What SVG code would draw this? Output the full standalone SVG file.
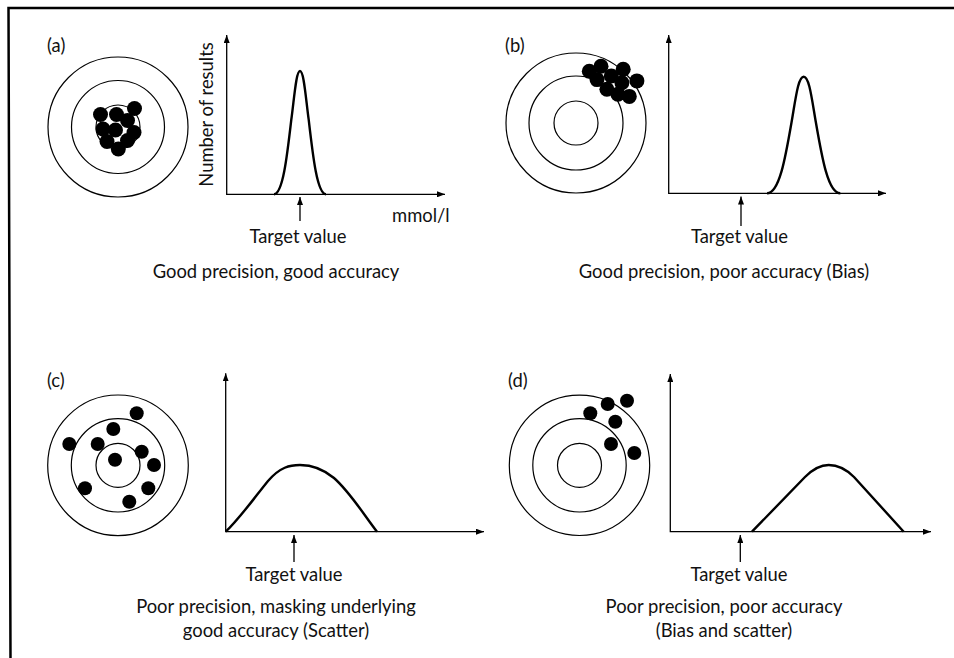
<svg xmlns="http://www.w3.org/2000/svg" width="954" height="658" viewBox="0 0 954 658">
<defs>
<marker id="ah" viewBox="0 0 8 6" refX="8" refY="3" markerWidth="8" markerHeight="6" markerUnits="userSpaceOnUse" orient="auto-start-reverse">
<path d="M0,0 L8,3 L0,6 z" fill="#000"/>
</marker>
</defs>
<style>
text{font-family:"Lato","Open Sans","DejaVu Sans",sans-serif;font-size:18.4px;fill:#111}
.mid{text-anchor:middle}
.ring{fill:none;stroke:#000;stroke-width:1.2}
.dot{fill:#000}
.axis{fill:none;stroke:#000;stroke-width:1.3;marker-start:url(#ah);marker-end:url(#ah)}
.tarr{fill:none;stroke:#000;stroke-width:1.3;marker-end:url(#ah)}
.curve{fill:none;stroke:#000;stroke-width:2.4;stroke-linejoin:round}
.frame{fill:none;stroke:#000;stroke-width:2.5}
</style>
<rect width="954" height="658" fill="#fff"/>
<path class="frame" d="M954,8 L8.5,8 L10.5,658"/>

<g id="panel-a">
<text x="47" y="52">(a)</text>
<circle class="ring" cx="118" cy="127" r="70"/>
<circle class="ring" cx="118" cy="127" r="46.5"/>
<circle class="ring" cx="118" cy="127" r="22"/>
<g class="dot">
<circle cx="100.5" cy="114.5" r="7.5"/><circle cx="116.5" cy="114.5" r="7.5"/><circle cx="134.5" cy="108.5" r="7.5"/>
<circle cx="127.5" cy="120.5" r="7.5"/><circle cx="103" cy="129" r="7.5"/><circle cx="115.5" cy="130" r="7.5"/>
<circle cx="134" cy="132.5" r="7.5"/><circle cx="107" cy="141.5" r="7.5"/><circle cx="127.5" cy="140.5" r="7.5"/>
<circle cx="118.3" cy="149" r="7.5"/>
</g>
<text transform="translate(213,114.5) rotate(-90)" class="mid">Number of results</text>
<text x="392" y="222">mmol/l</text>
</g>

<g id="panel-b">
<text x="505" y="52">(b)</text>
<circle class="ring" cx="576" cy="123" r="70"/>
<circle class="ring" cx="576" cy="123" r="47"/>
<circle class="ring" cx="576" cy="123" r="22"/>
<g class="dot">
<circle cx="589.3" cy="71.3" r="7.5"/><circle cx="601" cy="66.3" r="7.5"/><circle cx="597" cy="79.6" r="7.5"/>
<circle cx="611.3" cy="76" r="7.5"/><circle cx="623.2" cy="69.2" r="7.5"/><circle cx="621.9" cy="82.7" r="7.5"/>
<circle cx="636.9" cy="80.9" r="7.5"/><circle cx="606.9" cy="89.3" r="7.5"/><circle cx="617.9" cy="94.3" r="7.5"/>
<circle cx="629.3" cy="96.4" r="7.5"/>
</g>
</g>

<g id="panel-c">
<text x="47" y="387">(c)</text>
<circle class="ring" cx="118" cy="465.3" r="70.3"/>
<circle class="ring" cx="118" cy="465.3" r="46.7"/>
<circle class="ring" cx="118" cy="465.3" r="22"/>
<g class="dot">
<circle cx="136.7" cy="413.3" r="7"/><circle cx="113.3" cy="429" r="7"/><circle cx="69.3" cy="444" r="7"/>
<circle cx="97.7" cy="444" r="7"/><circle cx="141.7" cy="451.7" r="7"/><circle cx="115" cy="459.7" r="7"/>
<circle cx="154" cy="465" r="7"/><circle cx="85" cy="488.3" r="7"/><circle cx="148.3" cy="488.3" r="7"/>
<circle cx="129.3" cy="501.7" r="7"/>
</g>
</g>

<g id="panel-d">
<text x="508" y="387">(d)</text>
<circle class="ring" cx="579.5" cy="465.3" r="70.2"/>
<circle class="ring" cx="579.5" cy="465.3" r="46.7"/>
<circle class="ring" cx="579.5" cy="465.3" r="22"/>
<g class="dot">
<circle cx="590.3" cy="413.3" r="7"/><circle cx="607.7" cy="404" r="7"/><circle cx="627" cy="400.7" r="7"/>
<circle cx="615.3" cy="421.7" r="7"/><circle cx="611" cy="444" r="7"/><circle cx="634.3" cy="453" r="7"/>
</g>
</g>

<g id="connectors">
<path class="axis" d="M226.7,35 L226.7,194.3 L445,194.3"/>
<path class="axis" d="M668.7,35 L668.7,193.3 L886,193.3"/>
<path class="axis" d="M225.7,373.3 L225.7,531.7 L484,531.7"/>
<path class="axis" d="M670.3,374 L670.3,531.7 L931,531.7"/>
<path class="tarr" d="M300,221 L300,197"/>
<path class="tarr" d="M741,226 L741,196.5"/>
<path class="tarr" d="M294,562 L294,535"/>
<path class="tarr" d="M740.3,562 L740.3,535"/>
</g>

<g id="curves">
<path class="curve" d="M274,194.3 C282.7,194.3 287,157.3 291.3,119.7 C294.3,97.6 296.1,71 300,71 C303.9,71 305.7,97.6 308.7,119.7 C313,157.3 317.3,194.3 326,194.3"/>
<path class="curve" d="M767.1,193.3 C779.3,193.3 785.4,157.9 791.5,122.5 C795.8,97.6 798.2,76.7 803.7,76.7 C809.2,76.7 811.6,97.6 815.9,122.5 C822,157.9 828.1,193.3 840.3,193.3"/>
<path class="curve" d="M225.7,531.7 C240,518 255,497 268,481 C280,467 290,465 300,465 C312,465 322,468 334,478 C350,492 364,515 377,531.7"/>
<path class="curve" d="M752,531.7 L805,477 C812,470 820,465 828.7,465 C838,465 846,469 854,477 L903.7,531.7"/>
</g>

<g id="labels">
<text x="298" y="243" class="mid">Target value</text>
<text x="276" y="278" class="mid">Good precision, good accuracy</text>
<text x="739.5" y="243" class="mid">Target value</text>
<text x="724" y="278" class="mid">Good precision, poor accuracy (Bias)</text>
<text x="294" y="581" class="mid">Target value</text>
<text x="276" y="613" class="mid">Poor precision, masking underlying</text>
<text x="276" y="637" class="mid">good accuracy (Scatter)</text>
<text x="739" y="581" class="mid">Target value</text>
<text x="724" y="613" class="mid">Poor precision, poor accuracy</text>
<text x="724" y="637" class="mid">(Bias and scatter)</text>
</g>
</svg>
